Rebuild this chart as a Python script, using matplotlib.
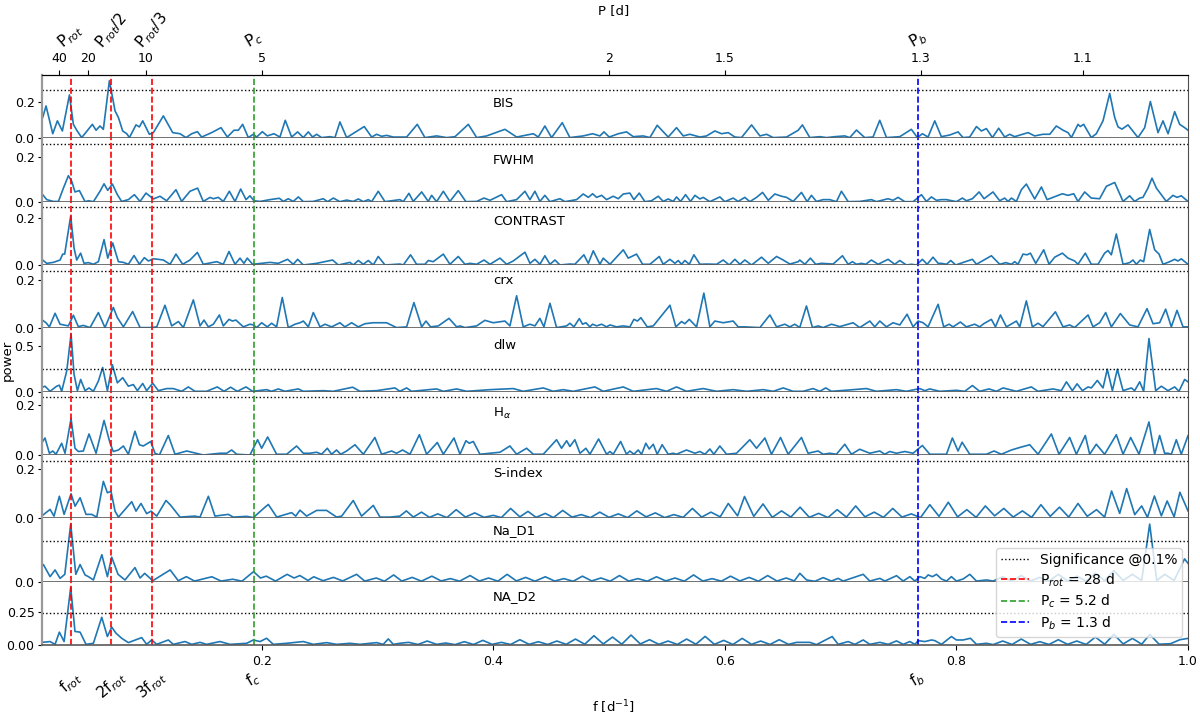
import matplotlib
matplotlib.use("Agg")
import matplotlib.pyplot as plt
import matplotlib.transforms as mtransforms
from matplotlib.lines import Line2D

plt.rcParams['font.size'] = 9

# marked frequencies [1/d]
f_rot = 0.0351
f_c = 0.193
f_b = 0.7664

# top axis (period) ticks
top_tick_f = [0.025, 0.05, 0.1, 0.2, 0.5, 0.6, 0.7692, 0.9091]
top_tick_lab = ['40', '20', '10', '5', '2', '1.5', '1.3', '1.1']

names = ['BIS', 'FWHM', 'CONTRAST', 'crx', 'dlw', r'H$_\alpha$', 'S-index', 'Na_D1', 'NA_D2']
sig = [0.262, 0.255, 0.243, 0.237, 0.246, 0.230, 0.232, 0.330, 0.243]

# periodogram power (frequency, power)
bis = [(0.0099, 0.105), (0.0109, 0.113), (0.0138, 0.176), (0.0196, 0.025), (0.0236, 0.095), (0.0279, 0.040),
       (0.0340, 0.236), (0.0374, 0.076), (0.0403, 0.044), (0.0446, 0.004), (0.0538, 0.076), (0.0570, 0.044),
       (0.0604, 0.067), (0.0633, 0.049), (0.0685, 0.313), (0.0734, 0.149), (0.0763, 0.113), (0.0800, 0.040),
       (0.0835, 0.025), (0.0858, 0.004), (0.0915, 0.073), (0.0944, 0.062), (0.0973, 0.095), (0.1030, 0.022),
       (0.1065, 0.031), (0.1151, 0.122), (0.1232, 0.031), (0.1295, 0.025), (0.1347, 0.004), (0.1396, 0.025),
       (0.1445, 0.036), (0.1482, 0.007), (0.1568, 0.031), (0.1649, 0.058), (0.1704, 0.007), (0.1761, 0.044),
       (0.1799, 0.044), (0.1836, 0.076), (0.1885, 0.004), (0.1928, 0.022), (0.1957, 0.007), (0.2006, 0.036),
       (0.2049, 0.013), (0.2106, 0.025), (0.2158, 0.007), (0.2204, 0.098), (0.2259, 0.007), (0.2311, 0.035),
       (0.2360, 0.004), (0.2403, 0.035), (0.2440, 0.007), (0.2475, 0.022), (0.2518, 0.004), (0.2590, 0.009),
       (0.2633, 0.004), (0.2676, 0.089), (0.2734, 0.004), (0.2886, 0.064), (0.2950, 0.007), (0.2993, 0.022),
       (0.3036, 0.011), (0.3079, 0.016), (0.3137, 0.007), (0.3252, 0.007), (0.3344, 0.076), (0.3410, 0.004),
       (0.3511, 0.013), (0.3598, 0.004), (0.3670, 0.009), (0.3785, 0.076), (0.3857, 0.004), (0.3943, 0.013),
       (0.4101, 0.049), (0.4202, 0.007), (0.4346, 0.025), (0.4389, 0.007), (0.4446, 0.067), (0.4504, 0.004),
       (0.4596, 0.085), (0.4662, 0.004), (0.4777, 0.013), (0.4858, 0.025), (0.4921, 0.013), (0.4956, 0.035),
       (0.5002, 0.007), (0.5080, 0.025), (0.5152, 0.035), (0.5209, 0.009), (0.5295, 0.013), (0.5353, 0.004),
       (0.5416, 0.071), (0.5511, 0.007), (0.5583, 0.058), (0.5641, 0.013), (0.5698, 0.022), (0.5785, 0.007),
       (0.5842, 0.013), (0.5914, 0.040), (0.5972, 0.025), (0.6029, 0.031), (0.6087, 0.007), (0.6144, 0.004),
       (0.6231, 0.073), (0.6303, 0.013), (0.6360, 0.022), (0.6418, 0.004), (0.6533, 0.007), (0.6634, 0.044),
       (0.6670, 0.073), (0.6734, 0.004), (0.6820, 0.009), (0.6878, 0.004), (0.6950, 0.009), (0.7036, 0.013),
       (0.7079, 0.004), (0.7137, 0.045), (0.7208, 0.004), (0.7280, 0.007), (0.7338, 0.098), (0.7396, 0.004),
       (0.7511, 0.009), (0.7611, 0.049), (0.7663, 0.004), (0.7706, 0.025), (0.7755, 0.007), (0.7813, 0.095),
       (0.7870, 0.009), (0.7942, 0.018), (0.8014, 0.035), (0.8057, 0.004), (0.8115, 0.007), (0.8173, 0.064),
       (0.8216, 0.040), (0.8259, 0.053), (0.8311, 0.004), (0.8365, 0.055), (0.8417, 0.007), (0.8460, 0.022),
       (0.8503, 0.009), (0.8619, 0.031), (0.8676, 0.013), (0.8748, 0.022), (0.8806, 0.022), (0.8863, 0.067),
       (0.8921, 0.044), (0.8964, 0.031), (0.8993, 0.004), (0.9050, 0.076), (0.9070, 0.064), (0.9099, 0.076),
       (0.9165, 0.004), (0.9208, 0.025), (0.9266, 0.095), (0.9324, 0.244), (0.9367, 0.113), (0.9396, 0.062),
       (0.9430, 0.050), (0.9482, 0.073), (0.9568, 0.004), (0.9626, 0.058), (0.9675, 0.200), (0.9741, 0.031),
       (0.9784, 0.095), (0.9828, 0.025), (0.9885, 0.145), (0.9928, 0.076), (0.9971, 0.058), (1.0000, 0.044)]

fwhm = [(0.0099, 0.035), (0.0109, 0.031), (0.0144, 0.009), (0.0201, 0.001), (0.0245, 0.001), (0.0288, 0.060),
        (0.0331, 0.115), (0.0360, 0.090), (0.0388, 0.043), (0.0426, 0.049), (0.0475, 0.000), (0.0504, 0.004),
        (0.0547, 0.000), (0.0604, 0.046), (0.0639, 0.079), (0.0671, 0.050), (0.0711, 0.078), (0.0754, 0.031),
        (0.0791, 0.001), (0.0849, 0.009), (0.0901, 0.031), (0.0950, 0.001), (0.1001, 0.038), (0.1065, 0.012),
        (0.1122, 0.024), (0.1180, 0.004), (0.1260, 0.053), (0.1309, 0.001), (0.1381, 0.046), (0.1447, 0.060),
        (0.1496, 0.001), (0.1554, 0.019), (0.1583, 0.013), (0.1626, 0.019), (0.1669, 0.001), (0.1721, 0.046),
        (0.1770, 0.001), (0.1819, 0.056), (0.1865, 0.009), (0.1899, 0.026), (0.1934, 0.004), (0.1986, 0.001),
        (0.2072, 0.009), (0.2153, 0.015), (0.2187, 0.001), (0.2230, 0.013), (0.2273, 0.001), (0.2317, 0.021),
        (0.2360, 0.000), (0.2446, 0.001), (0.2532, 0.013), (0.2570, 0.000), (0.2619, 0.016), (0.2676, 0.000),
        (0.2734, 0.007), (0.2791, 0.001), (0.2835, 0.012), (0.2878, 0.000), (0.2921, 0.009), (0.2950, 0.000),
        (0.3007, 0.046), (0.3065, 0.000), (0.3194, 0.009), (0.3223, 0.000), (0.3272, 0.037), (0.3309, 0.001),
        (0.3382, 0.043), (0.3439, 0.001), (0.3468, 0.028), (0.3511, 0.000), (0.3569, 0.046), (0.3626, 0.001),
        (0.3698, 0.049), (0.3764, 0.000), (0.3857, 0.001), (0.3920, 0.016), (0.3972, 0.006), (0.4072, 0.031),
        (0.4116, 0.000), (0.4202, 0.009), (0.4274, 0.046), (0.4317, 0.009), (0.4360, 0.046), (0.4403, 0.001),
        (0.4446, 0.028), (0.4490, 0.000), (0.4576, 0.013), (0.4619, 0.000), (0.4720, 0.009), (0.4777, 0.034),
        (0.4821, 0.019), (0.4858, 0.035), (0.4893, 0.019), (0.4936, 0.028), (0.4979, 0.009), (0.5036, 0.024),
        (0.5080, 0.013), (0.5123, 0.034), (0.5180, 0.038), (0.5215, 0.009), (0.5261, 0.038), (0.5310, 0.000),
        (0.5367, 0.004), (0.5425, 0.024), (0.5468, 0.001), (0.5511, 0.012), (0.5554, 0.001), (0.5583, 0.021),
        (0.5618, 0.001), (0.5661, 0.031), (0.5704, 0.001), (0.5742, 0.028), (0.5785, 0.012), (0.5813, 0.019),
        (0.5871, 0.000), (0.5957, 0.021), (0.6000, 0.000), (0.6072, 0.016), (0.6115, 0.001), (0.6173, 0.019),
        (0.6216, 0.000), (0.6274, 0.019), (0.6326, 0.041), (0.6375, 0.006), (0.6432, 0.034), (0.6490, 0.024),
        (0.6533, 0.019), (0.6590, 0.001), (0.6662, 0.041), (0.6711, 0.000), (0.6748, 0.028), (0.6791, 0.001),
        (0.6849, 0.009), (0.6906, 0.009), (0.6964, 0.000), (0.7007, 0.046), (0.7065, 0.000), (0.7165, 0.001),
        (0.7266, 0.009), (0.7309, 0.000), (0.7410, 0.013), (0.7453, 0.006), (0.7496, 0.019), (0.7554, 0.000),
        (0.7626, 0.000), (0.7698, 0.031), (0.7741, 0.001), (0.7784, 0.021), (0.7827, 0.006), (0.7870, 0.009),
        (0.7914, 0.009), (0.8000, 0.000), (0.8052, 0.016), (0.8086, 0.004), (0.8138, 0.013), (0.8196, 0.043),
        (0.8239, 0.013), (0.8316, 0.043), (0.8374, 0.004), (0.8417, 0.016), (0.8446, 0.001), (0.8475, 0.016),
        (0.8518, 0.001), (0.8561, 0.053), (0.8604, 0.078), (0.8676, 0.012), (0.8734, 0.065), (0.8783, 0.009),
        (0.8834, 0.019), (0.8915, 0.035), (0.8964, 0.028), (0.9013, 0.035), (0.9050, 0.001), (0.9108, 0.043),
        (0.9165, 0.016), (0.9237, 0.013), (0.9295, 0.068), (0.9367, 0.085), (0.9439, 0.001), (0.9496, 0.026),
        (0.9539, 0.001), (0.9583, 0.016), (0.9611, 0.019), (0.9654, 0.060), (0.9689, 0.104), (0.9727, 0.060),
        (0.9813, 0.001), (0.9870, 0.028), (0.9905, 0.019), (0.9942, 0.026), (1.0000, 0.001)]

contrast = [(0.0099, 0.022), (0.0109, 0.021), (0.0144, 0.007), (0.0201, 0.011), (0.0259, 0.021), (0.0282, 0.046),
            (0.0299, 0.046), (0.0351, 0.207), (0.0380, 0.071), (0.0403, 0.021), (0.0437, 0.050), (0.0466, 0.007),
            (0.0504, 0.010), (0.0547, 0.003), (0.0590, 0.014), (0.0639, 0.107), (0.0671, 0.029), (0.0714, 0.093),
            (0.0763, 0.014), (0.0806, 0.011), (0.0849, 0.003), (0.0898, 0.040), (0.0944, 0.003), (0.0987, 0.031),
            (0.1022, 0.017), (0.1065, 0.026), (0.1108, 0.024), (0.1151, 0.021), (0.1209, 0.003), (0.1260, 0.046),
            (0.1318, 0.003), (0.1381, 0.021), (0.1445, 0.053), (0.1496, 0.003), (0.1612, 0.014), (0.1669, 0.003),
            (0.1718, 0.057), (0.1770, 0.003), (0.1813, 0.029), (0.1847, 0.007), (0.1876, 0.029), (0.1922, 0.003),
            (0.2072, 0.011), (0.2144, 0.007), (0.2224, 0.024), (0.2273, 0.003), (0.2311, 0.024), (0.2360, 0.000),
            (0.2475, 0.007), (0.2613, 0.021), (0.2662, 0.000), (0.2763, 0.011), (0.2791, 0.000), (0.2835, 0.019),
            (0.2878, 0.003), (0.2921, 0.019), (0.2964, 0.000), (0.3007, 0.036), (0.3065, 0.000), (0.3194, 0.004),
            (0.3223, 0.000), (0.3286, 0.043), (0.3338, 0.003), (0.3410, 0.003), (0.3439, 0.019), (0.3482, 0.014),
            (0.3569, 0.046), (0.3626, 0.003), (0.3698, 0.036), (0.3756, 0.003), (0.3799, 0.007), (0.3857, 0.003),
            (0.3920, 0.021), (0.3972, 0.003), (0.4058, 0.029), (0.4116, 0.003), (0.4173, 0.017), (0.4274, 0.054),
            (0.4317, 0.007), (0.4360, 0.024), (0.4403, 0.003), (0.4446, 0.039), (0.4490, 0.003), (0.4533, 0.021),
            (0.4576, 0.000), (0.4662, 0.004), (0.4705, 0.003), (0.4783, 0.043), (0.4821, 0.007), (0.4864, 0.060),
            (0.4921, 0.003), (0.4950, 0.029), (0.5008, 0.003), (0.5123, 0.064), (0.5166, 0.029), (0.5238, 0.046),
            (0.5290, 0.003), (0.5353, 0.003), (0.5434, 0.036), (0.5468, 0.003), (0.5526, 0.024), (0.5569, 0.007),
            (0.5598, 0.019), (0.5626, 0.003), (0.5655, 0.019), (0.5693, 0.003), (0.5733, 0.043), (0.5785, 0.003),
            (0.5842, 0.004), (0.5929, 0.003), (0.5986, 0.021), (0.6038, 0.000), (0.6087, 0.024), (0.6130, 0.003),
            (0.6173, 0.021), (0.6231, 0.000), (0.6317, 0.033), (0.6375, 0.007), (0.6447, 0.036), (0.6504, 0.021),
            (0.6562, 0.004), (0.6634, 0.014), (0.6647, 0.021), (0.6691, 0.003), (0.6739, 0.029), (0.6785, 0.003),
            (0.6834, 0.007), (0.6935, 0.004), (0.7016, 0.039), (0.7065, 0.003), (0.7102, 0.014), (0.7137, 0.003),
            (0.7180, 0.007), (0.7217, 0.003), (0.7266, 0.021), (0.7324, 0.003), (0.7410, 0.024), (0.7467, 0.003),
            (0.7511, 0.019), (0.7568, 0.000), (0.7611, 0.003), (0.7655, 0.000), (0.7706, 0.024), (0.7747, 0.003),
            (0.7798, 0.033), (0.7842, 0.007), (0.7870, 0.007), (0.7914, 0.003), (0.7951, 0.019), (0.7994, 0.000),
            (0.8138, 0.024), (0.8173, 0.003), (0.8302, 0.039), (0.8374, 0.003), (0.8426, 0.010), (0.8475, 0.003),
            (0.8503, 0.014), (0.8532, 0.003), (0.8575, 0.046), (0.8610, 0.043), (0.8639, 0.050), (0.8685, 0.007),
            (0.8754, 0.064), (0.8800, 0.003), (0.8849, 0.033), (0.8915, 0.050), (0.8964, 0.029), (0.9021, 0.017),
            (0.9050, 0.003), (0.9113, 0.050), (0.9165, 0.003), (0.9223, 0.003), (0.9280, 0.050), (0.9309, 0.061),
            (0.9338, 0.043), (0.9381, 0.131), (0.9439, 0.003), (0.9496, 0.010), (0.9525, 0.021), (0.9554, 0.003),
            (0.9588, 0.021), (0.9617, 0.014), (0.9669, 0.150), (0.9712, 0.064), (0.9750, 0.046), (0.9784, 0.003),
            (0.9842, 0.014), (0.9885, 0.024), (0.9913, 0.017), (0.9942, 0.026), (1.0000, 0.003)]

crx = [(0.0099, 0.032), (0.0109, 0.033), (0.0138, 0.023), (0.0167, 0.006), (0.0216, 0.062), (0.0259, 0.017),
       (0.0288, 0.014), (0.0331, 0.010), (0.0374, 0.054), (0.0417, 0.007), (0.0460, 0.012), (0.0518, 0.003),
       (0.0590, 0.065), (0.0647, 0.003), (0.0719, 0.086), (0.0754, 0.044), (0.0806, 0.006), (0.0886, 0.069),
       (0.0950, 0.003), (0.1036, 0.003), (0.1094, 0.006), (0.1165, 0.095), (0.1223, 0.010), (0.1281, 0.028),
       (0.1324, 0.003), (0.1410, 0.117), (0.1468, 0.010), (0.1502, 0.034), (0.1540, 0.006), (0.1583, 0.017),
       (0.1635, 0.055), (0.1669, 0.010), (0.1718, 0.037), (0.1747, 0.030), (0.1778, 0.034), (0.1842, 0.006),
       (0.1899, 0.017), (0.1928, 0.014), (0.1957, 0.003), (0.2000, 0.023), (0.2049, 0.006), (0.2086, 0.021),
       (0.2129, 0.006), (0.2178, 0.127), (0.2230, 0.003), (0.2288, 0.017), (0.2331, 0.023), (0.2360, 0.030),
       (0.2403, 0.006), (0.2446, 0.065), (0.2504, 0.006), (0.2547, 0.017), (0.2604, 0.006), (0.2676, 0.023),
       (0.2719, 0.006), (0.2777, 0.023), (0.2835, 0.006), (0.2892, 0.019), (0.2964, 0.023), (0.3079, 0.023),
       (0.3165, 0.003), (0.3252, 0.006), (0.3315, 0.106), (0.3382, 0.006), (0.3419, 0.030), (0.3459, 0.006),
       (0.3526, 0.010), (0.3618, 0.041), (0.3684, 0.006), (0.3713, 0.010), (0.3756, 0.003), (0.3857, 0.010),
       (0.3928, 0.033), (0.4000, 0.023), (0.4101, 0.030), (0.4144, 0.010), (0.4202, 0.134), (0.4259, 0.006),
       (0.4317, 0.017), (0.4360, 0.010), (0.4403, 0.041), (0.4438, 0.006), (0.4490, 0.103), (0.4547, 0.003),
       (0.4634, 0.010), (0.4662, 0.021), (0.4697, 0.006), (0.4743, 0.040), (0.4772, 0.017), (0.4800, 0.023),
       (0.4835, 0.006), (0.4858, 0.017), (0.4893, 0.010), (0.4936, 0.017), (0.4979, 0.006), (0.5008, 0.014),
       (0.5065, 0.006), (0.5123, 0.010), (0.5180, 0.006), (0.5215, 0.037), (0.5246, 0.030), (0.5275, 0.044),
       (0.5330, 0.006), (0.5382, 0.010), (0.5526, 0.095), (0.5577, 0.006), (0.5626, 0.028), (0.5655, 0.019),
       (0.5693, 0.037), (0.5756, 0.006), (0.5819, 0.145), (0.5871, 0.006), (0.5914, 0.030), (0.5986, 0.023),
       (0.6072, 0.030), (0.6115, 0.006), (0.6173, 0.006), (0.6303, 0.003), (0.6389, 0.055), (0.6447, 0.006),
       (0.6518, 0.017), (0.6562, 0.006), (0.6604, 0.017), (0.6647, 0.003), (0.6705, 0.092), (0.6757, 0.003),
       (0.6806, 0.010), (0.6849, 0.003), (0.6921, 0.017), (0.6993, 0.007), (0.7108, 0.023), (0.7165, 0.003),
       (0.7252, 0.030), (0.7295, 0.006), (0.7338, 0.030), (0.7396, 0.006), (0.7453, 0.023), (0.7511, 0.014),
       (0.7574, 0.058), (0.7626, 0.006), (0.7669, 0.030), (0.7712, 0.023), (0.7755, 0.006), (0.7842, 0.099),
       (0.7890, 0.006), (0.7937, 0.017), (0.7971, 0.006), (0.8034, 0.026), (0.8086, 0.006), (0.8158, 0.017),
       (0.8201, 0.006), (0.8236, 0.019), (0.8302, 0.037), (0.8337, 0.006), (0.8380, 0.055), (0.8432, 0.006),
       (0.8518, 0.030), (0.8547, 0.006), (0.8604, 0.113), (0.8656, 0.006), (0.8705, 0.021), (0.8748, 0.007),
       (0.8855, 0.068), (0.8921, 0.006), (0.8978, 0.014), (0.9021, 0.003), (0.9137, 0.055), (0.9180, 0.006),
       (0.9237, 0.023), (0.9289, 0.065), (0.9338, 0.006), (0.9416, 0.061), (0.9496, 0.014), (0.9568, 0.006),
       (0.9646, 0.081), (0.9698, 0.019), (0.9755, 0.023), (0.9807, 0.079), (0.9856, 0.006), (0.9905, 0.074),
       (0.9957, 0.006), (1.0000, 0.006)]

dlw = [(0.0099, 0.040), (0.0109, 0.049), (0.0129, 0.060), (0.0173, 0.004), (0.0230, 0.060), (0.0253, 0.071),
       (0.0273, 0.004), (0.0317, 0.228), (0.0354, 0.631), (0.0380, 0.190), (0.0409, 0.011), (0.0437, 0.134),
       (0.0475, 0.011), (0.0509, 0.041), (0.0547, 0.004), (0.0590, 0.116), (0.0627, 0.265), (0.0668, 0.011),
       (0.0711, 0.295), (0.0754, 0.097), (0.0800, 0.153), (0.0849, 0.060), (0.0892, 0.078), (0.0927, 0.011),
       (0.0973, 0.090), (0.1007, 0.011), (0.1059, 0.093), (0.1108, 0.011), (0.1180, 0.034), (0.1237, 0.034),
       (0.1309, 0.004), (0.1367, 0.052), (0.1424, 0.004), (0.1525, 0.004), (0.1617, 0.052), (0.1675, 0.004),
       (0.1732, 0.049), (0.1790, 0.004), (0.1865, 0.052), (0.1922, 0.004), (0.2043, 0.022), (0.2086, 0.004),
       (0.2144, 0.030), (0.2201, 0.004), (0.2317, 0.030), (0.2360, 0.004), (0.2532, 0.011), (0.2619, 0.004),
       (0.2786, 0.049), (0.2849, 0.004), (0.2993, 0.011), (0.3151, 0.041), (0.3194, 0.004), (0.3252, 0.041),
       (0.3295, 0.004), (0.3511, 0.030), (0.3569, 0.004), (0.3684, 0.030), (0.3770, 0.004), (0.3972, 0.022),
       (0.4173, 0.034), (0.4259, 0.004), (0.4432, 0.041), (0.4518, 0.004), (0.4605, 0.022), (0.4691, 0.004),
       (0.4878, 0.052), (0.4950, 0.004), (0.5123, 0.052), (0.5209, 0.004), (0.5410, 0.034), (0.5497, 0.004),
       (0.5583, 0.052), (0.5669, 0.004), (0.5813, 0.034), (0.5928, 0.004), (0.6072, 0.022), (0.6187, 0.004),
       (0.6331, 0.022), (0.6418, 0.004), (0.6504, 0.041), (0.6590, 0.004), (0.6676, 0.004), (0.6762, 0.034),
       (0.6820, 0.004), (0.6872, 0.041), (0.6921, 0.004), (0.7079, 0.019), (0.7223, 0.034), (0.7309, 0.004),
       (0.7482, 0.022), (0.7568, 0.004), (0.7683, 0.034), (0.7727, 0.011), (0.7770, 0.030), (0.7856, 0.004),
       (0.8000, 0.015), (0.8072, 0.004), (0.8138, 0.067), (0.8201, 0.004), (0.8282, 0.030), (0.8345, 0.004),
       (0.8403, 0.041), (0.8518, 0.004), (0.8647, 0.052), (0.8705, 0.004), (0.8834, 0.030), (0.8906, 0.011),
       (0.8950, 0.108), (0.9001, 0.011), (0.9042, 0.086), (0.9088, 0.011), (0.9137, 0.052), (0.9165, 0.041),
       (0.9217, 0.123), (0.9266, 0.041), (0.9303, 0.246), (0.9347, 0.011), (0.9390, 0.246), (0.9439, 0.011),
       (0.9511, 0.041), (0.9539, 0.011), (0.9583, 0.108), (0.9617, 0.004), (0.9663, 0.582), (0.9721, 0.011),
       (0.9770, 0.060), (0.9827, 0.011), (0.9885, 0.052), (0.9922, 0.004), (0.9971, 0.134), (1.0000, 0.108)]

halpha = [(0.0099, 0.045), (0.0109, 0.054), (0.0129, 0.068), (0.0167, 0.007), (0.0196, 0.016), (0.0224, 0.003),
          (0.0273, 0.047), (0.0302, 0.007), (0.0354, 0.146), (0.0388, 0.027), (0.0417, 0.014), (0.0460, 0.016),
          (0.0509, 0.084), (0.0570, 0.007), (0.0639, 0.138), (0.0691, 0.047), (0.0719, 0.014), (0.0763, 0.020),
          (0.0806, 0.036), (0.0849, 0.003), (0.0906, 0.095), (0.0944, 0.041), (0.0978, 0.036), (0.1042, 0.054),
          (0.1079, 0.007), (0.1117, 0.000), (0.1194, 0.078), (0.1252, 0.003), (0.1353, 0.016), (0.1496, 0.000),
          (0.1640, 0.007), (0.1698, 0.007), (0.1741, 0.020), (0.1784, 0.003), (0.1899, 0.000), (0.1965, 0.061),
          (0.2000, 0.027), (0.2052, 0.072), (0.2129, 0.003), (0.2216, 0.003), (0.2302, 0.036), (0.2360, 0.007),
          (0.2417, 0.007), (0.2475, 0.011), (0.2518, 0.003), (0.2567, 0.027), (0.2604, 0.003), (0.2647, 0.020),
          (0.2682, 0.003), (0.2734, 0.016), (0.2806, 0.041), (0.2878, 0.003), (0.2978, 0.070), (0.3036, 0.003),
          (0.3122, 0.016), (0.3165, 0.007), (0.3217, 0.020), (0.3281, 0.003), (0.3362, 0.081), (0.3425, 0.003),
          (0.3517, 0.050), (0.3569, 0.003), (0.3661, 0.068), (0.3713, 0.003), (0.3764, 0.057), (0.3793, 0.047),
          (0.3828, 0.054), (0.3885, 0.003), (0.3972, 0.007), (0.4058, 0.011), (0.4144, 0.036), (0.4202, 0.003),
          (0.4288, 0.027), (0.4346, 0.003), (0.4432, 0.003), (0.4547, 0.061), (0.4590, 0.027), (0.4634, 0.057),
          (0.4662, 0.034), (0.4705, 0.061), (0.4749, 0.007), (0.4800, 0.027), (0.4835, 0.003), (0.4910, 0.064),
          (0.4979, 0.003), (0.5008, 0.014), (0.5036, 0.003), (0.5100, 0.054), (0.5151, 0.003), (0.5180, 0.016),
          (0.5215, 0.003), (0.5252, 0.020), (0.5281, 0.003), (0.5318, 0.047), (0.5347, 0.024), (0.5382, 0.043),
          (0.5416, 0.003), (0.5459, 0.041), (0.5511, 0.003), (0.5554, 0.007), (0.5583, 0.003), (0.5669, 0.020),
          (0.5742, 0.007), (0.5785, 0.014), (0.5828, 0.003), (0.5871, 0.024), (0.5905, 0.003), (0.5957, 0.036),
          (0.6015, 0.003), (0.6101, 0.007), (0.6216, 0.061), (0.6274, 0.027), (0.6346, 0.068), (0.6403, 0.003),
          (0.6481, 0.070), (0.6547, 0.003), (0.6662, 0.070), (0.6719, 0.007), (0.6806, 0.016), (0.6849, 0.003),
          (0.6906, 0.007), (0.6964, 0.003), (0.7036, 0.043), (0.7093, 0.003), (0.7165, 0.023), (0.7252, 0.007),
          (0.7338, 0.016), (0.7381, 0.003), (0.7424, 0.014), (0.7482, 0.007), (0.7554, 0.014), (0.7626, 0.007),
          (0.7706, 0.038), (0.7770, 0.003), (0.7914, 0.003), (0.7965, 0.068), (0.8014, 0.016), (0.8049, 0.051),
          (0.8115, 0.003), (0.8259, 0.003), (0.8325, 0.016), (0.8388, 0.003), (0.8475, 0.020), (0.8547, 0.030),
          (0.8633, 0.041), (0.8705, 0.003), (0.8820, 0.084), (0.8886, 0.003), (0.8978, 0.070), (0.9036, 0.003),
          (0.9113, 0.078), (0.9151, 0.003), (0.9208, 0.043), (0.9280, 0.003), (0.9381, 0.081), (0.9439, 0.003),
          (0.9505, 0.070), (0.9577, 0.003), (0.9663, 0.132), (0.9712, 0.003), (0.9755, 0.078), (0.9798, 0.007),
          (0.9827, 0.007), (0.9856, 0.003), (0.9899, 0.061), (0.9942, 0.003), (1.0000, 0.077)]

sindex = [(0.0099, 0.008), (0.0100, 0.009), (0.0173, 0.036), (0.0207, 0.009), (0.0253, 0.089), (0.0294, 0.016),
          (0.0354, 0.099), (0.0389, 0.049), (0.0432, 0.083), (0.0483, 0.016), (0.0532, 0.016), (0.0576, 0.005),
          (0.0633, 0.149), (0.0668, 0.103), (0.0699, 0.109), (0.0734, 0.029), (0.0763, 0.005), (0.0878, 0.067),
          (0.0915, 0.029), (0.0958, 0.060), (0.1007, 0.019), (0.1045, 0.029), (0.1094, 0.009), (0.1174, 0.072),
          (0.1214, 0.053), (0.1295, 0.005), (0.1424, 0.009), (0.1468, 0.005), (0.1540, 0.089), (0.1597, 0.009),
          (0.1712, 0.016), (0.1755, 0.005), (0.1870, 0.008), (0.1928, 0.003), (0.2029, 0.045), (0.2058, 0.056),
          (0.2130, 0.005), (0.2259, 0.023), (0.2294, 0.009), (0.2331, 0.033), (0.2388, 0.009), (0.2475, 0.032),
          (0.2561, 0.032), (0.2647, 0.005), (0.2691, 0.009), (0.2791, 0.072), (0.2863, 0.009), (0.2964, 0.052),
          (0.3022, 0.005), (0.3108, 0.005), (0.3194, 0.009), (0.325, 0.030), (0.331, 0.005), (0.338, 0.025),
          (0.345, 0.004), (0.352, 0.018), (0.360, 0.003), (0.368, 0.035), (0.376, 0.005), (0.384, 0.022),
          (0.392, 0.004), (0.400, 0.012), (0.407, 0.003), (0.415, 0.040), (0.423, 0.006), (0.430, 0.028),
          (0.437, 0.004), (0.445, 0.020), (0.452, 0.003), (0.460, 0.032), (0.468, 0.005), (0.476, 0.015),
          (0.484, 0.003), (0.492, 0.025), (0.500, 0.004), (0.508, 0.018), (0.516, 0.003), (0.524, 0.030),
          (0.532, 0.006), (0.540, 0.022), (0.548, 0.003), (0.556, 0.015), (0.564, 0.004), (0.572, 0.040),
          (0.580, 0.005), (0.588, 0.025), (0.596, 0.006), (0.603, 0.060), (0.611, 0.010), (0.617, 0.088),
          (0.625, 0.008), (0.633, 0.058), (0.641, 0.004), (0.649, 0.030), (0.657, 0.005), (0.665, 0.045),
          (0.673, 0.004), (0.681, 0.020), (0.689, 0.003), (0.697, 0.035), (0.705, 0.005), (0.713, 0.050),
          (0.721, 0.006), (0.729, 0.025), (0.737, 0.004), (0.745, 0.040), (0.753, 0.005), (0.761, 0.018),
          (0.769, 0.003), (0.777, 0.055), (0.785, 0.008), (0.793, 0.065), (0.801, 0.006), (0.809, 0.035),
          (0.817, 0.004), (0.825, 0.050), (0.833, 0.010), (0.841, 0.040), (0.849, 0.005), (0.857, 0.030),
          (0.865, 0.004), (0.873, 0.055), (0.881, 0.008), (0.889, 0.045), (0.897, 0.005), (0.905, 0.060),
          (0.913, 0.008), (0.921, 0.035), (0.928, 0.005), (0.934, 0.110), (0.941, 0.020), (0.947, 0.120),
          (0.954, 0.015), (0.960, 0.050), (0.965, 0.004), (0.971, 0.090), (0.977, 0.010), (0.982, 0.070),
          (0.988, 0.006), (0.993, 0.105), (1.000, 0.030)]

na_d1 = [(0.0099, 0.120), (0.0115, 0.140), (0.0173, 0.041), (0.0216, 0.096), (0.0259, 0.027), (0.0300, 0.060),
         (0.0351, 0.470), (0.0395, 0.060), (0.0432, 0.140), (0.0475, 0.055), (0.0504, 0.041), (0.0547, 0.014),
         (0.0620, 0.220), (0.0668, 0.041), (0.0705, 0.200), (0.0760, 0.060), (0.0820, 0.014), (0.0906, 0.115),
         (0.0950, 0.030), (0.0990, 0.068), (0.1060, 0.008), (0.1210, 0.096), (0.1280, 0.008), (0.1350, 0.041),
         (0.1420, 0.005), (0.1570, 0.040), (0.1650, 0.005), (0.1750, 0.020), (0.1830, 0.004), (0.1930, 0.082),
         (0.1990, 0.030), (0.2040, 0.045), (0.2120, 0.005), (0.2220, 0.060), (0.2280, 0.030), (0.2330, 0.050),
         (0.2400, 0.010), (0.2450, 0.040), (0.2530, 0.008), (0.2620, 0.035), (0.2700, 0.006), (0.2820, 0.060),
         (0.2890, 0.005), (0.2990, 0.030), (0.3060, 0.004), (0.3140, 0.055), (0.3210, 0.005), (0.330, 0.035),
         (0.338, 0.004), (0.347, 0.045), (0.355, 0.006), (0.363, 0.025), (0.371, 0.004), (0.380, 0.050),
         (0.388, 0.005), (0.396, 0.030), (0.404, 0.004), (0.412, 0.060), (0.420, 0.006), (0.428, 0.035),
         (0.436, 0.004), (0.445, 0.040), (0.453, 0.005), (0.461, 0.025), (0.469, 0.003), (0.477, 0.045),
         (0.485, 0.006), (0.493, 0.030), (0.501, 0.004), (0.509, 0.050), (0.517, 0.005), (0.525, 0.025),
         (0.533, 0.004), (0.541, 0.040), (0.549, 0.006), (0.557, 0.030), (0.565, 0.004), (0.573, 0.055),
         (0.581, 0.005), (0.589, 0.025), (0.597, 0.004), (0.605, 0.045), (0.613, 0.006), (0.621, 0.035),
         (0.629, 0.004), (0.637, 0.050), (0.645, 0.005), (0.653, 0.030), (0.660, 0.006), (0.6648, 0.068),
         (0.6706, 0.014), (0.6778, 0.003), (0.6849, 0.033), (0.6921, 0.005), (0.6979, 0.027), (0.7022, 0.005),
         (0.7195, 0.060), (0.7252, 0.005), (0.7339, 0.027), (0.7382, 0.005), (0.7483, 0.049), (0.7540, 0.005),
         (0.7598, 0.041), (0.7641, 0.005), (0.7684, 0.041), (0.7727, 0.027), (0.7756, 0.055), (0.7793, 0.041),
         (0.7828, 0.060), (0.7871, 0.022), (0.7914, 0.005), (0.7957, 0.041), (0.8000, 0.005), (0.8058, 0.022),
         (0.8116, 0.060), (0.8173, 0.005), (0.8260, 0.014), (0.8317, 0.005), (0.840, 0.040), (0.848, 0.005),
         (0.856, 0.050), (0.864, 0.005), (0.872, 0.035), (0.880, 0.004), (0.888, 0.060), (0.896, 0.006),
         (0.904, 0.045), (0.912, 0.005), (0.920, 0.070), (0.928, 0.008), (0.936, 0.090), (0.944, 0.010),
         (0.952, 0.060), (0.960, 0.010), (0.9669, 0.470), (0.9730, 0.010), (0.980, 0.060), (0.988, 0.010),
         (0.9970, 0.186), (1.000, 0.150)]

na_d2 = [(0.0099, 0.020), (0.0101, 0.020), (0.0173, 0.026), (0.0216, 0.005), (0.0253, 0.097), (0.0294, 0.026),
         (0.0351, 0.434), (0.0388, 0.102), (0.0432, 0.097), (0.0483, 0.005), (0.0547, 0.013), (0.0619, 0.209),
         (0.0668, 0.064), (0.0705, 0.135), (0.0742, 0.089), (0.0791, 0.051), (0.0849, 0.018), (0.0964, 0.056),
         (0.1007, 0.005), (0.1050, 0.038), (0.1094, 0.005), (0.1194, 0.038), (0.1237, 0.005), (0.1338, 0.026),
         (0.1396, 0.005), (0.1468, 0.020), (0.1525, 0.005), (0.1640, 0.026), (0.1727, 0.005), (0.1871, 0.013),
         (0.1928, 0.038), (0.1986, 0.026), (0.2043, 0.051), (0.2101, 0.005), (0.2216, 0.013), (0.2360, 0.026),
         (0.2446, 0.005), (0.2561, 0.018), (0.2647, 0.005), (0.2763, 0.013), (0.2849, 0.005), (0.2993, 0.018),
         (0.3050, 0.005), (0.3094, 0.046), (0.3137, 0.005), (0.3194, 0.013), (0.327, 0.020), (0.335, 0.004),
         (0.343, 0.030), (0.351, 0.005), (0.359, 0.015), (0.367, 0.003), (0.375, 0.025), (0.383, 0.004),
         (0.391, 0.035), (0.399, 0.005), (0.407, 0.020), (0.415, 0.004), (0.423, 0.040), (0.431, 0.005),
         (0.439, 0.025), (0.447, 0.004), (0.455, 0.030), (0.463, 0.005), (0.471, 0.045), (0.479, 0.006),
         (0.487, 0.070), (0.495, 0.008), (0.503, 0.060), (0.511, 0.006), (0.519, 0.075), (0.527, 0.008),
         (0.535, 0.040), (0.543, 0.005), (0.551, 0.030), (0.559, 0.004), (0.567, 0.045), (0.575, 0.006),
         (0.583, 0.065), (0.591, 0.005), (0.599, 0.035), (0.607, 0.004), (0.615, 0.050), (0.623, 0.005),
         (0.631, 0.030), (0.639, 0.004), (0.647, 0.040), (0.655, 0.005), (0.662, 0.020), (0.6734, 0.020),
         (0.6792, 0.003), (0.6927, 0.064), (0.6979, 0.005), (0.7065, 0.026), (0.7123, 0.005), (0.7195, 0.038),
         (0.7252, 0.005), (0.7339, 0.020), (0.7411, 0.005), (0.7483, 0.031), (0.7540, 0.005), (0.7598, 0.026),
         (0.7641, 0.005), (0.7670, 0.033), (0.7727, 0.026), (0.7785, 0.038), (0.7814, 0.033), (0.7871, 0.005),
         (0.7957, 0.064), (0.8000, 0.038), (0.8058, 0.038), (0.8121, 0.051), (0.8173, 0.005), (0.8260, 0.013),
         (0.8317, 0.003), (0.840, 0.030), (0.848, 0.004), (0.856, 0.045), (0.864, 0.005), (0.872, 0.025),
         (0.880, 0.004), (0.888, 0.040), (0.896, 0.005), (0.904, 0.030), (0.912, 0.004), (0.920, 0.060),
         (0.928, 0.006), (0.936, 0.080), (0.944, 0.008), (0.952, 0.050), (0.960, 0.006), (0.967, 0.080),
         (0.975, 0.006), (0.985, 0.010), (0.993, 0.040), (1.000, 0.050)]

series = [bis, fwhm, contrast, crx, dlw, halpha, sindex, na_d1, na_d2]
yticks = [[0.0, 0.2], [0.0, 0.2], [0.0, 0.2], [0.0, 0.2], [0.0, 0.5], [0.0, 0.2], [0.0, 0.2], [0.0], [0.0, 0.25]]
ytick_labels = [['0.0', '0.2'], ['0.0', '0.2'], ['0.0', '0.2'], ['0.0', '0.2'], ['0.0', '0.5'],
                ['0.0', '0.2'], ['0.0', '0.2'], ['0.0'], ['0.00', '0.25']]
label_y = [0.55, 0.65, 0.68, 0.76, 0.73, 0.66, 0.71, 0.80, 0.77]

fig, axes = plt.subplots(9, 1, sharex=True, figsize=(12, 7.19), dpi=100)
fig.subplots_adjust(left=0.0346, right=0.99, top=0.8957, bottom=0.1029, hspace=0)

for i, ax in enumerate(axes):
    f, p = zip(*series[i])
    ax.plot(f, p, color='#1f77b4', lw=1.2)
    ax.axhline(sig[i], color='k', ls=':', lw=1)
    for fx in (f_rot, 2 * f_rot, 3 * f_rot):
        ax.axvline(fx, color='red', ls='--', lw=1.2)
    ax.axvline(f_c, color='tab:green', ls='--', lw=1.2)
    ax.axvline(f_b, color='blue', ls='--', lw=1.2)
    ax.set_ylim(0, 1.1 * max(max(p), sig[i]))
    ax.set_yticks(yticks[i], ytick_labels[i])
    ax.tick_params(axis='y', length=3, pad=2)
    trans = mtransforms.blended_transform_factory(ax.transData, ax.transAxes)
    ax.text(0.4, label_y[i], names[i], transform=trans, ha='left', va='center', fontsize=9.5)
    ax.spines['left'].set_color('0.6')
    ax.spines['left'].set_linewidth(1.6)
    ax.spines['bottom'].set_color('0.35')
    ax.spines['bottom'].set_linewidth(1.2)
    ax.spines['right'].set_color('0.3')
    if i > 0:
        ax.spines['top'].set_visible(False)
    if i < 8:
        ax.tick_params(axis='x', bottom=False)

axes[0].set_xlim(0.0099, 1.0)
axes[-1].set_xticks([0.2, 0.4, 0.6, 0.8, 1.0], ['0.2', '0.4', '0.6', '0.8', '1.0'])

# period axis on top
top = axes[0].secondary_xaxis('top')
top.set_xticks(top_tick_f, top_tick_lab)

# markers of the periods above and frequencies below
tt = mtransforms.blended_transform_factory(axes[0].transData, fig.transFigure)
tb = mtransforms.blended_transform_factory(axes[-1].transData, fig.transFigure)
top_marks = [(f_rot, r'P$_{rot}$', 40), (2 * f_rot, r'P$_{rot}$/2', 50), (3 * f_rot, r'P$_{rot}$/3', 50),
             (f_c, r'P$_c$', 30), (f_b, r'P$_b$', 30)]
bot_marks = [(f_rot, r'f$_{rot}$', 40), (2 * f_rot, r'2f$_{rot}$', 40), (3 * f_rot, r'3f$_{rot}$', 40),
             (f_c, r'f$_c$', 30), (f_b, r'f$_b$', 30)]
for fx, lab, rot in top_marks:
    fig.text(fx, 0.928, lab, transform=tt, rotation=rot, ha='center', va='bottom', fontsize=11)
for fx, lab, rot in bot_marks:
    fig.text(fx, 0.071, lab, transform=tb, rotation=rot, ha='center', va='top', fontsize=11)

fig.text(0.511, 0.986, 'P [d]', ha='center', va='center', fontsize=9.5)
fig.text(0.511, 0.017, r'f [d$^{-1}$]', ha='center', va='center', fontsize=9.5)
fig.text(0.0058, 0.499, 'power', rotation=90, ha='center', va='center', fontsize=9.5)

handles = [Line2D([], [], color='k', ls=':', lw=1),
           Line2D([], [], color='red', ls='--', lw=1.2),
           Line2D([], [], color='tab:green', ls='--', lw=1.2),
           Line2D([], [], color='blue', ls='--', lw=1.2)]
labels = ['Significance @0.1%', r'P$_{rot}$ = 28 d', r'P$_c$ = 5.2 d', r'P$_b$ = 1.3 d']
fig.legend(handles, labels, loc='lower right', bbox_to_anchor=(0.991, 0.105), fontsize=10,
           framealpha=0.8, labelspacing=0.3, borderpad=0.35)

fig.savefig('out.png', dpi=100)
